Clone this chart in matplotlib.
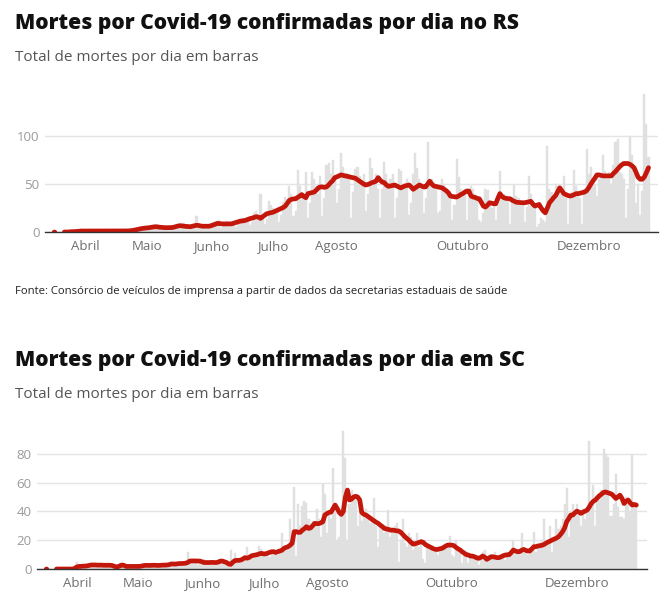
import numpy as np
import matplotlib.pyplot as plt
import matplotlib.dates as mdates

nan = np.nan
start = np.datetime64('2020-03-17')

# mortes diarias e media movel - RS
rs_daily = [
    1, 0, 0, 0, 0,
    0, 0, 1, 0, 1, 1, 0,
    1, 2, 1, 1, 0, 1, 1,
    1, 2, 1, 0, 1, 1, 0,
    1, 1, 2, 1, 1, 1, 0,
    1, 2, 1, 1, 2, 2, 1,
    3, 5, 4, 3, 4, 5, 2,
    4, 7, 6, 5, 5, 6, 3,
    4, 6, 5, 5, 4, 5, 3,
    5, 8, 9, 6, 7, 6, 4,
    8, 17, 7, 6, 5, 6, 3,
    5, 9, 10, 8, 9, 12, 4,
    6, 10, 11, 9, 10, 11, 5,
    8, 14, 15, 12, 13, 14, 7,
    10, 20, 22, 18, 40, 16, 8,
    14, 32, 28, 25, 22, 24, 10,
    18, 31, 36, 34, 48, 40, 17,
    22, 65, 48, 40, 36, 63, 15,
    30, 63, 55, 45, 40, 58, 17,
    35, 70, 72, 60, 75, 55, 30,
    45, 82, 68, 60, 62, 60, 15,
    42, 66, 68, 58, 50, 60, 22,
    40, 77, 67, 55, 60, 45, 15,
    45, 73, 60, 48, 55, 60, 15,
    35, 66, 64, 50, 45, 55, 18,
    30, 60, 82, 67, 55, 48, 20,
    35, 94, 50, 55, 48, 45, 20,
    22, 55, 50, 45, 40, 35, 12,
    28, 76, 57, 45, 40, 45, 12,
    35, 48, 45, 40, 38, 12, 10,
    20, 45, 44, 30, 25, 28, 12,
    28, 64, 36, 40, 38, 35, 8,
    30, 49, 38, 35, 32, 30, 10,
    26, 58, 40, 32, 30, 5, 8,
    15, 12, 10, 90, 45, 42, 40,
    50, 48, 40, 45, 58, 35, 8,
    38, 42, 65, 48, 40, 35, 8,
    45, 87, 60, 68, 52, 50, 38,
    55, 60, 80, 64, 58, 63, 50,
    70, 94, 97, 63, 60, 55, 15,
    45, 100, 80, 60, 30, 50, 18,
    43, 144, 113, 78,
]
rs_avg = [
    0, nan, nan, nan, nan,
    0, 0, 0, 0.3, 0.3, 0.4, 0.6,
    0.9, 1, 1, 1, 1, 1, 1.1,
    1.1, 1, 1, 1, 1.1, 1.1, 1,
    1, 1, 1, 1.1, 1.1, 1, 1,
    1, 1.1, 1.1, 1.2, 1.3, 1.6, 2,
    2.5, 3, 3.4, 3.8, 4, 4.3, 4.5,
    4.8, 5, 5.5, 5.4, 5, 4.8, 4.6,
    4.5, 4.5, 4.5, 4.6, 5, 5.6, 6.2,
    6.6, 6.4, 6, 5.8, 5.6, 5.5, 6,
    6.5, 7, 6.8, 6.3, 6, 6, 6,
    6, 6.5, 7.2, 8, 9, 8.8, 8.6,
    8.4, 8.4, 8.4, 8.4, 8.5, 9.2, 10,
    10.6, 11.2, 11.5, 11.8, 12.4, 13.2, 14,
    14.5, 15.2, 16, 15.5, 14.2, 15.8, 17.5,
    19, 19.5, 20, 20.6, 21.5, 22.5, 23.5,
    24.5, 25.5, 27, 30, 33, 34, 34.5,
    34.6, 36, 37.5, 39, 37, 35.7, 40,
    40.5, 41, 41.6, 43.5, 46, 47, 47,
    46.5, 47, 49, 51.5, 53.5, 56.7, 57.5,
    58.5, 59.5, 59, 58.5, 58, 57.5, 57,
    56.5, 56, 54.5, 53, 51.5, 50, 49,
    49.5, 50.4, 51.5, 52, 53, 56.7, 54,
    52, 51.5, 49, 47.6, 48, 48.5, 49,
    48, 47, 46, 47, 48, 48.5, 49,
    47, 44.5, 46, 47.5, 49, 48, 47,
    47, 50, 53, 50, 48, 47.5, 47,
    46.5, 46, 44.5, 43, 41, 37.5, 37,
    36.7, 36.4, 37.5, 39, 40, 41.5, 42.7,
    42.7, 37.5, 36.5, 36, 35, 34.6, 31,
    27, 26, 28, 30.5, 30, 29.5, 29.4,
    35, 40, 37, 35.7, 35, 34.8, 34.6,
    33, 32, 31, 30.8, 30.6, 30.5, 30.5,
    31, 31.5, 32, 29, 27, 28, 28.7,
    25, 22, 20, 25, 30.5, 33, 35.7,
    38, 42, 46, 43, 40, 39, 38,
    37.5, 38, 39, 40, 40, 40.5, 41,
    41.6, 43, 46, 49.7, 53, 56, 59.5,
    59.5, 59, 58.5, 58.5, 58.5, 58.5, 58.5,
    61, 63, 65.5, 68, 70, 71.4, 71.4,
    71.4, 70.5, 69, 67, 62, 57, 55,
    55, 57.4, 62, 67,
]

# mortes diarias e media movel - SC
sc_daily = [
    1, 0, 0, 0, 0,
    0, 0, 0, 0, 0, 0, 0,
    0, 0, 2, 5, 1, 2, 3,
    2, 3, 2, 4, 3, 2, 3,
    3, 2, 3, 3, 2, 3, 2,
    1, 1, 2, 4, 3, 2, 1,
    2, 1, 2, 3, 1, 2, 2,
    3, 2, 3, 2, 3, 2, 3,
    2, 3, 3, 2, 3, 3, 3,
    4, 3, 4, 5, 3, 4, 3,
    5, 12, 6, 4, 6, 5, 3,
    6, 4, 7, 5, 4, 3, 4,
    5, 4, 6, 7, 5, 4, 3,
    4, 13, 6, 11, 6, 5, 4,
    8, 7, 15, 9, 10, 8, 9,
    12, 16, 14, 10, 9, 11, 8,
    12, 13, 12, 10, 14, 25, 15,
    14, 16, 35, 17, 57, 9, 45,
    30, 44, 47, 46, 35, 28, 33,
    30, 42, 35, 22, 59, 52, 25,
    40, 35, 70, 40, 20, 22, 40,
    96, 77, 20, 45, 55, 50, 48,
    30, 45, 33, 40, 42, 38, 32,
    35, 49, 30, 15, 30, 28, 25,
    30, 41, 22, 28, 30, 32, 5,
    20, 35, 18, 15, 25, 22, 13,
    18, 25, 15, 20, 7, 4, 18,
    15, 16, 12, 14, 10, 15, 13,
    16, 14, 18, 23, 10, 8, 20,
    15, 12, 4, 10, 8, 4, 9,
    10, 7, 10, 3, 8, 12, 13,
    6, 8, 10, 7, 12, 6, 9,
    8, 10, 6, 12, 9, 12, 20,
    14, 12, 10, 25, 14, 12, 10,
    12, 14, 26, 12, 15, 18, 20,
    35, 20, 18, 30, 12, 20, 35,
    28, 30, 35, 45, 56, 22, 38,
    45, 40, 45, 38, 30, 42, 35,
    40, 89, 45, 58, 30, 48, 52,
    55, 83, 80, 78, 37, 37, 45,
    66, 43, 36, 36, 35, 50, 45,
    40, 79, 44, 46,
]
sc_avg = [
    0, nan, nan, nan, nan,
    0, 0, 0, 0, 0, 0, 0,
    0, 0, 0.5, 1.5, 1.8, 1.8, 2,
    2, 2.2, 2.5, 2.8, 2.8, 2.8, 2.7,
    2.7, 2.7, 2.6, 2.6, 2.6, 2.6, 2.5,
    2, 1.5, 1.6, 2.2, 2.8, 2.5, 1.8,
    1.8, 1.8, 1.8, 1.8, 1.8, 1.8, 1.9,
    2.2, 2.5, 2.5, 2.5, 2.5, 2.6, 2.6,
    2.5, 2.5, 2.6, 2.7, 2.7, 2.8, 3,
    3.5, 3.5, 3.4, 3.6, 3.8, 3.8, 3.9,
    4, 4.5, 5.5, 5.6, 5.6, 5.6, 5.5,
    5.5, 5, 4.5, 4.5, 4.5, 4.5, 4.6,
    4.5, 4.5, 4.8, 5.5, 5.5, 5, 4.5,
    3.5, 3.2, 4.6, 5.8, 6, 6, 6.2,
    7, 7.9, 7.5, 8, 9, 9.5, 9.7,
    10, 10.5, 10.9, 10.5, 10.5, 11, 11.5,
    12, 12, 11.5, 12, 12.5, 13, 14.3,
    15, 15.5, 16.5, 17.8, 25.9, 26, 25.4,
    25.5, 27, 28, 29.4, 28.2, 28.5, 30,
    31.7, 31.5, 31.5, 32, 32.8, 37.5, 38.5,
    39.3, 39.5, 42, 44.4, 42, 39.3, 37.9,
    40, 50, 54.8, 47.9, 48.5, 50, 50.5,
    50, 48, 39.3, 38, 37.5, 36.5, 35.5,
    34.4, 33.5, 32.5, 31.7, 30.5, 29.5, 28.2,
    27.8, 27.5, 27, 27, 26.8, 26.5, 26.4,
    25.5, 24, 22.5, 21.3, 20, 18.5, 17.3,
    17.5, 18, 18.5, 19, 18.5, 17, 16.2,
    15.5, 14.8, 14, 13.6, 13.6, 14, 14.3,
    15, 16, 16.6, 16.6, 16.6, 16.2, 15,
    14, 13.2, 12, 11, 10, 9.7, 9,
    9, 8.5, 7.8, 7.4, 8, 9, 8.2,
    6.7, 7.5, 8.5, 8.5, 8.2, 7.9, 7.9,
    8.5, 9.2, 9.7, 9.8, 10, 11.5, 13.2,
    12.5, 12, 12, 13, 13.6, 13, 12.5,
    12.5, 14, 15.5, 15.5, 16, 16.2, 16.5,
    17.1, 18, 18.8, 19.4, 20.2, 20.8, 21.5,
    22.4, 24, 25.9, 28.5, 32.8, 35, 37.5,
    37.5, 39, 40.2, 39.5, 38.6, 39.5, 40.2,
    40.9, 43, 45.5, 47, 47.9, 49.5, 50.9,
    52, 53.2, 53.5, 53, 52.5, 52, 50.5,
    49, 50, 51.3, 49, 45.5, 47, 47.9,
    46, 44.4, 44.8, 44.4,
]

months = ['2020-04-01', '2020-05-01', '2020-06-01', '2020-07-01',
          '2020-08-01', '2020-10-01', '2020-12-01']
month_labels = ['Abril', 'Maio', 'Junho', 'Julho', 'Agosto', 'Outubro', 'Dezembro']

assert len(rs_daily) == len(rs_avg) == len(sc_daily) == len(sc_avg)

plt.rcParams['font.family'] = ['Open Sans', 'DejaVu Sans']

W, H = 664, 605
fig = plt.figure(figsize=(W / 100, H / 100), dpi=100)
t0 = mdates.date2num(start)


def add_ax(left, top, right, bottom):
    return fig.add_axes([left / W, 1 - bottom / H, (right - left) / W, (bottom - top) / H])


def draw(ax, daily, avg, ymax, yticks, xmin, xmax):
    dates = start + np.arange(len(daily))
    ax.bar(dates, daily, width=1.0, color='#e0e0e0', edgecolor='#e0e0e0',
           linewidth=0.3, zorder=2)
    a = np.array(avg, dtype=float)
    ax.plot(dates, a, color='#c4170c', lw=3.4, solid_capstyle='round',
            solid_joinstyle='round', zorder=3)
    ok = ~np.isnan(a)
    prev_ok = np.r_[False, ok[:-1]]
    next_ok = np.r_[ok[1:], False]
    iso = ok & ~prev_ok & ~next_ok
    ax.plot(dates[iso], a[iso], 'o', color='#c4170c', ms=4, mew=0, zorder=3)
    ax.set_ylim(0, ymax)
    ax.set_xlim(t0 + xmin, t0 + xmax)
    ax.set_yticks(yticks)
    ax.set_xticks([mdates.date2num(np.datetime64(m)) for m in months])
    ax.set_xticklabels(month_labels)
    ax.yaxis.grid(True, color='#e4e4e4', lw=1)
    ax.set_axisbelow(True)
    for s in ['top', 'right', 'left']:
        ax.spines[s].set_visible(False)
    ax.spines['bottom'].set_color('#333333')
    ax.spines['bottom'].set_linewidth(1)
    ax.spines['bottom'].set_zorder(4)
    ax.tick_params(axis='y', length=0, pad=4, labelsize=9.5, labelcolor='#9a9a9a')
    ax.tick_params(axis='x', length=0, pad=6, labelsize=9.5, labelcolor='#6e6e6e')


ax1 = add_ax(45, 90, 658, 232)
draw(ax1, rs_daily, rs_avg, 148, [0, 50, 100], -4.4, 292.6)

ax2 = add_ax(37, 425, 647, 569)
draw(ax2, sc_daily, sc_avg, 100, [0, 20, 40, 60, 80], -4.5, 293.2)


def ftext(x, y, s, **kw):
    fig.text(x / W, 1 - y / H, s, va='baseline', ha='left', **kw)


ftext(15, 29, 'Mortes por Covid-19 confirmadas por dia no RS',
      fontsize=15.1, fontweight=800, color='#111111')
ftext(15, 61, 'Total de mortes por dia em barras', fontsize=11.0, color='#555555')
ftext(15, 294, 'Fonte: Consórcio de veículos de imprensa a partir de dados da secretarias estaduais de saúde',
      fontsize=8.1, color='#222222')
ftext(15, 366, 'Mortes por Covid-19 confirmadas por dia em SC',
      fontsize=15.1, fontweight=800, color='#111111')
ftext(15, 398, 'Total de mortes por dia em barras', fontsize=11.0, color='#555555')

fig.savefig('out.png', dpi=100)
